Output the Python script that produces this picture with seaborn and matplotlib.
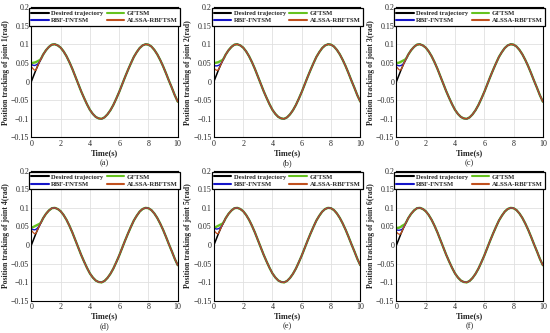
import matplotlib
matplotlib.use("Agg")
from matplotlib import pyplot as plt
from matplotlib.ticker import FuncFormatter
import seaborn as sns

# time samples (s)
t = [0, 0.1, 0.2, 0.3, 0.4, 0.5, 0.6, 0.7, 0.8,
     1.0, 1.2, 1.4, 1.6, 1.8, 2.0, 2.2, 2.4, 2.6, 2.8,
     3.0, 3.2, 3.4, 3.6, 3.8, 4.0, 4.2, 4.4, 4.6, 4.8,
     5.0, 5.2, 5.4, 5.6, 5.8, 6.0, 6.2, 6.4, 6.6, 6.8,
     7.0, 7.2, 7.4, 7.6, 7.8, 8.0, 8.2, 8.4, 8.6, 8.8,
     9.0, 9.2, 9.4, 9.6, 9.8, 10.0]

# desired trajectory (rad), same for every joint
desired = [0, .010, .020, .030, .039, .048, .056, .064, .072,
           .084, .093, .099, .100, .097, .091, .081, .068, .052, .034,
           .014, -.006, -.026, -.044, -.061, -.076, -.087, -.095, -.099, -.100,
           -.096, -.088, -.077, -.063, -.046, -.028, -.008, .012, .031, .049,
           .066, .079, .090, .097, .100, .099, .094, .085, .073, .058,
           .041, .022, .002, -.017, -.037, -.054]

# start-up transients (t = 0 ... 0.8 s) for joints 1..6, after that the controllers follow the desired curve
gftsm_start = [
    [.050, .050, .051, .052, .054, .056, .058, .064, .072],
    [.050, .050, .051, .052, .054, .056, .058, .064, .072],
    [.050, .050, .051, .053, .055, .057, .059, .064, .072],
    [.048, .048, .050, .052, .054, .056, .058, .064, .072],
    [.048, .048, .050, .052, .054, .056, .058, .064, .072],
    [.046, .046, .047, .049, .052, .054, .057, .064, .072],
]
rbf_start = [
    [.046, .044, .043, .044, .046, .049, .056, .064, .072],
    [.043, .042, .042, .043, .045, .049, .056, .064, .072],
    [.045, .043, .042, .043, .045, .049, .056, .064, .072],
    [.044, .042, .041, .042, .045, .049, .056, .064, .072],
    [.046, .044, .043, .044, .046, .049, .056, .064, .072],
    [.041, .040, .040, .041, .043, .048, .056, .064, .072],
]
alssa_start = [
    [.040, .035, .031, .030, .039, .048, .056, .064, .072],
    [.036, .032, .030, .031, .039, .048, .056, .064, .072],
    [.040, .035, .031, .031, .039, .048, .056, .064, .072],
    [.040, .035, .031, .031, .039, .048, .056, .064, .072],
    [.040, .035, .031, .031, .039, .048, .056, .064, .072],
    [.035, .031, .029, .030, .039, .048, .056, .064, .072],
]

panel_tags = ["(a)", "(b)", "(c)", "(d)", "(e)", "(f)"]

sns.set_style("whitegrid")
plt.rcParams["font.family"] = ["Liberation Serif", "DejaVu Serif"]
plt.rcParams["axes.unicode_minus"] = True

fig, axes = plt.subplots(2, 3, figsize=(5.5, 3.33), dpi=100)
plt.subplots_adjust(left=0.057, right=0.987, top=0.979, bottom=0.096,
                    wspace=0.247, hspace=0.254)

n_head = len(gftsm_start[0])
fmt = FuncFormatter(lambda v, p: ("%g" % round(v, 3)).replace("-", "\u2212"))

for i, ax in enumerate(axes.flat):
    g = gftsm_start[i] + desired[n_head:]
    r = rbf_start[i] + desired[n_head:]
    a = alssa_start[i] + desired[n_head:]
    sns.lineplot(x=t, y=desired, ax=ax, color="black", lw=1.1)
    sns.lineplot(x=t, y=g, ax=ax, color="#66c21f", lw=1.7)
    sns.lineplot(x=t, y=r, ax=ax, color="#1414c8", lw=1.0)
    sns.lineplot(x=t, y=a, ax=ax, color="#c0501e", lw=0.9)
    lines = ax.get_lines()

    ax.set_xlim(0, 10)
    ax.set_ylim(-0.15, 0.2)
    ax.set_xticks(range(0, 11, 2))
    ax.set_yticks([-0.15, -0.1, -0.05, 0, 0.05, 0.1, 0.15, 0.2])
    ax.yaxis.set_major_formatter(fmt)
    ax.tick_params(labelsize=5.8, length=2, direction="in", pad=1.5)
    ax.grid(color="#e0e0e0", lw=0.6)
    for s in ax.spines.values():
        s.set_color("black")
        s.set_linewidth(0.8)

    ax.set_xlabel("Time(s)", fontsize=6, fontweight="bold", labelpad=1)
    ax.set_ylabel("Position tracking of joint %d(rad)" % (i + 1),
                  fontsize=5.6, fontweight="bold", labelpad=1)
    ax.text(0.5, -0.165, panel_tags[i], transform=ax.transAxes,
            ha="center", va="top", fontsize=6)

    handles = [lines[0], lines[2], lines[1], lines[3]]
    names = ["Desired trajectory", "RBF-FNTSM", "GFTSM", "ALSSA-RBFTSM"]
    leg = ax.legend(handles, names, ncol=2, loc="upper center",
                    prop={"weight": "bold", "size": 4.8}, frameon=True,
                    fancybox=False, edgecolor="black", framealpha=1,
                    handlelength=2.6, handletextpad=0.4, labelspacing=0.25,
                    borderpad=0.35, columnspacing=0.5, borderaxespad=0.15)
    leg.get_frame().set_linewidth(0.9)
    for h in leg.get_lines():
        h.set_linewidth(1.5)

plt.savefig("out.png", dpi=100)
